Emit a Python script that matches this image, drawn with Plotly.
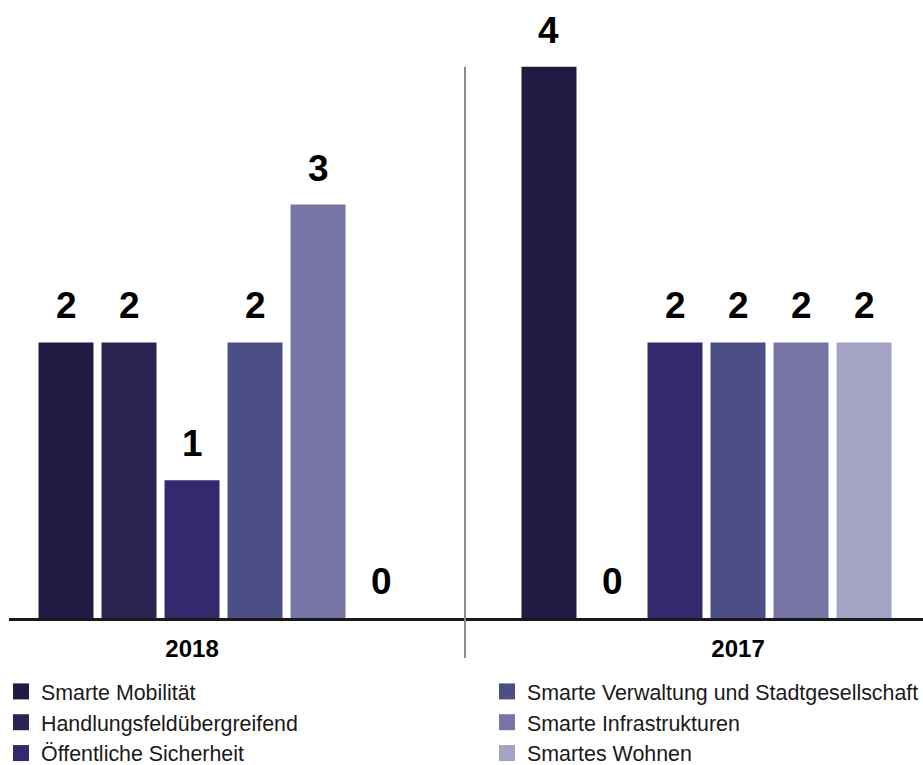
import plotly.graph_objects as go

# --- data -------------------------------------------------------------
years = ["2018", "2017"]
series_names = [
    "Smarte Mobilität",
    "Handlungsfeldübergreifend",
    "Öffentliche Sicherheit",
    "Smarte Verwaltung und Stadtgesellschaft",
    "Smarte Infrastrukturen",
    "Smartes Wohnen",
]
values_2018 = [2, 2, 1, 2, 3, 0]
values_2017 = [4, 0, 2, 2, 2, 2]

# --- style ------------------------------------------------------------
colors = ["#211a42", "#2a2452", "#322a6d", "#4c4e86", "#7675a6", "#a3a3c3"]
FONT = "Liberation Sans, Arial, Helvetica, sans-serif"
W, H = 923, 765
M_L, M_R, M_T, M_B = 9, 0, 0, 147

# horizontal layout of the bars (in category units)
SLOT = 0.1154          # distance between neighbouring bars
BAR_W = 0.1007         # bar width
FIRST_SLOT = [-2, -3]  # slot of the first series inside each year group
X_RANGE = [-0.3352, 1.3388]
Y_TOP = 4.485

values_by_year = [values_2018, values_2017]

fig = go.Figure()

annotations = []
for i, name in enumerate(series_names):
    xs = [g + (FIRST_SLOT[g] + i) * SLOT for g in range(len(years))]
    ys = [values_by_year[g][i] for g in range(len(years))]
    fig.add_trace(go.Bar(
        x=xs, y=ys, width=BAR_W, name=name,
        marker=dict(color=colors[i], line=dict(width=0)),
        showlegend=False, hoverinfo="skip",
    ))
    for x, v in zip(xs, ys):
        annotations.append(dict(
            x=x, y=v, xref="x", yref="y", text=str(v), showarrow=False,
            yanchor="bottom", yshift=14,
            font=dict(family=FONT, size=37, color="#000000", weight="bold"),
        ))

# legend entries: square swatches, split into two columns
for i, name in enumerate(series_names):
    fig.add_trace(go.Scatter(
        x=[None], y=[None], mode="markers", name=name,
        marker=dict(symbol="square", size=16, color=colors[i], line=dict(width=0)),
        legend="legend" if i < 3 else "legend2",
    ))

plot_h = H - M_T - M_B


def container_x(px):
    return px / W


def container_y(py):
    return 1 - py / H


legend_common = dict(
    xanchor="left", yanchor="top", xref="container", yref="container",
    orientation="v", bgcolor="rgba(0,0,0,0)", itemclick=False, tracegroupgap=0,
    font=dict(family=FONT, size=21.4, color="#1a1a1a"),
)

fig.update_layout(
    width=W, height=H,
    margin=dict(l=M_L, r=M_R, t=M_T, b=M_B, autoexpand=False),
    paper_bgcolor="white", plot_bgcolor="white",
    barmode="overlay",
    font=dict(family=FONT),
    xaxis=dict(
        range=X_RANGE, tickmode="array", tickvals=list(range(len(years))), ticktext=years,
        showgrid=False, zeroline=False, showline=True, linecolor="#1a1a1a", linewidth=2.5,
        ticks="outside", ticklen=7, tickcolor="rgba(0,0,0,0)",
        tickfont=dict(family=FONT, size=24, color="#000000", weight="bold"),
        fixedrange=True,
    ),
    yaxis=dict(
        range=[0, Y_TOP], showgrid=False, zeroline=False, showline=False,
        showticklabels=False, ticks="", fixedrange=True,
    ),
    legend=dict(x=container_x(1), y=container_y(671), **legend_common),
    legend2=dict(x=container_x(487), y=container_y(671), **legend_common),
    shapes=[dict(
        type="line", xref="x", yref="paper",
        x0=0.5, x1=0.5, y0=-(658 - (H - M_B)) / plot_h,
        y1=max(values_2017 + values_2018) / Y_TOP,
        line=dict(color="#8a8a8a", width=2),
    )],
    annotations=annotations,
)

fig.write_html("out.html")
